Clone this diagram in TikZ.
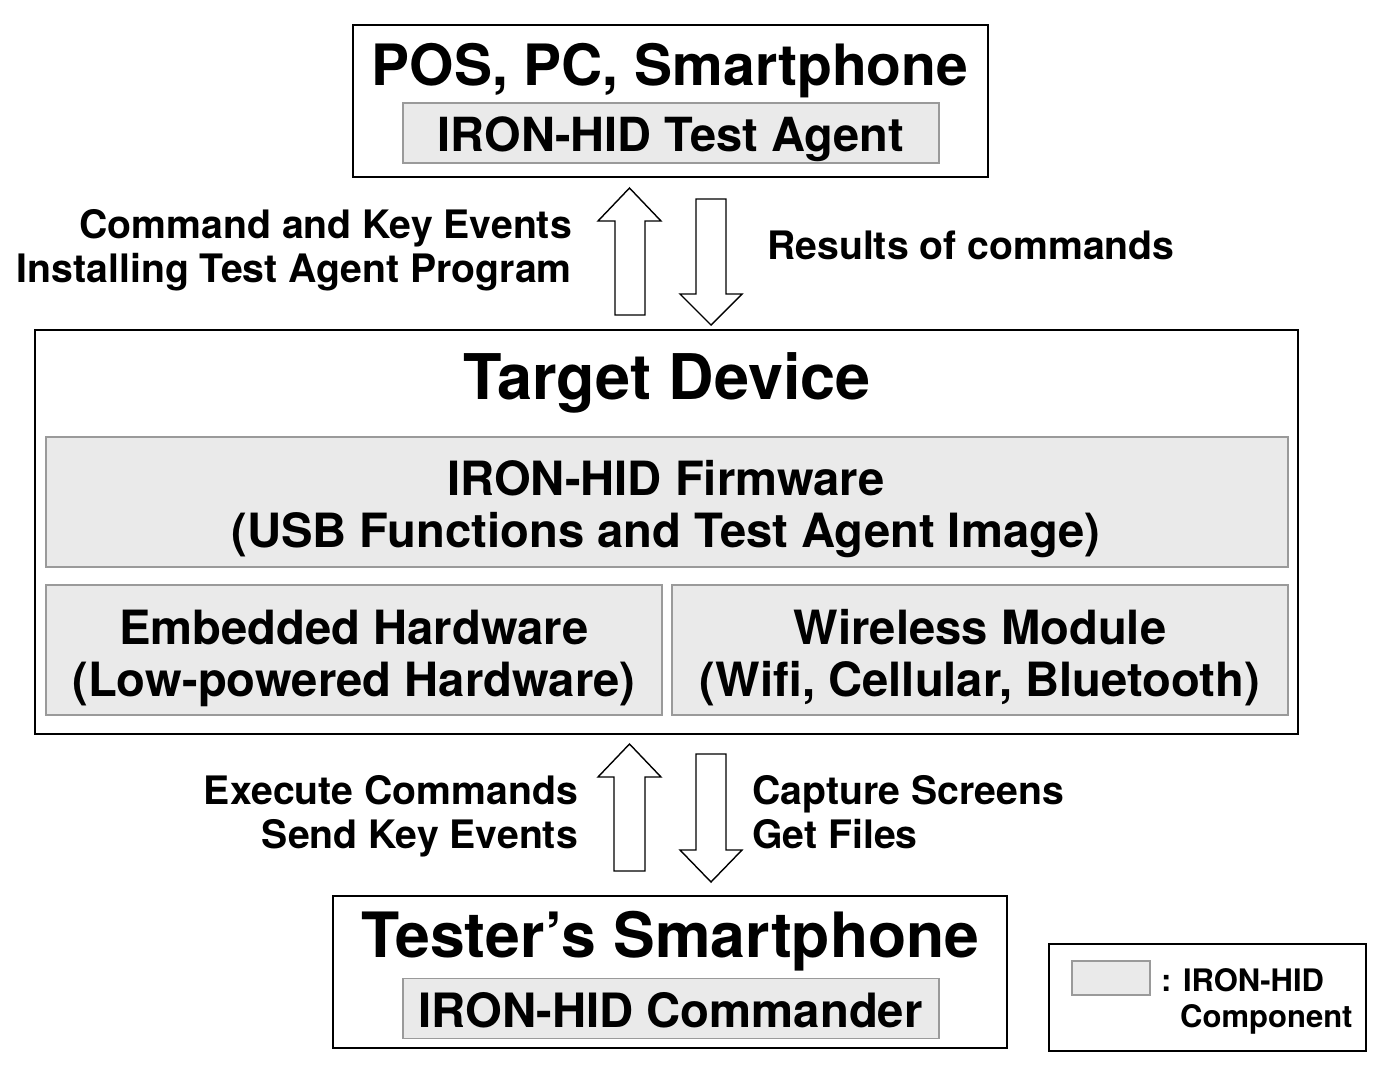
\documentclass[tikz,border=0pt]{standalone}
\usepackage{fontspec}
\setmainfont{TeX Gyre Heros}
\definecolor{compfill}{HTML}{EAEAEA}
\definecolor{compdraw}{HTML}{9A9A9A}
\begin{document}
\begin{tikzpicture}[x=1pt,y=-1pt,
  outerbox/.style={draw=black,line width=2.4pt,fill=white,inner sep=0pt},
  compbox/.style={draw=compdraw,line width=1.5pt,fill=compfill,inner sep=0pt},
  blockarrow/.style={draw=black,line width=1.4pt,fill=white,line join=miter},
  txt/.style={inner sep=0pt,anchor=base,font=\bfseries},
  lbl/.style={inner sep=0pt,font=\bfseries\fontsize{39.2}{46}\selectfont}]
\useasboundingbox (0,0) rectangle (1393,1085);
% top box
\node[outerbox,minimum width=635pt,minimum height=152pt] (host) at (670.5,101) {};
\node[compbox,minimum width=536pt,minimum height=60pt] (agent) at (671,133) {};
\node[txt,font=\bfseries\fontsize{57}{60}\selectfont] (hostt) at (670,85) {POS, PC, Smartphone};
\node[txt,font=\bfseries\fontsize{47}{50}\selectfont] (agentt) at (671,151.5) {IRON-HID Test Agent};
% target box
\node[outerbox,minimum width=1263pt,minimum height=404pt] (target) at (666.5,532) {};
\node[txt,font=\bfseries\fontsize{63}{66}\selectfont] (targett) at (667,399) {Target Device};
\node[compbox,minimum width=1242pt,minimum height=130pt] (fw) at (667,502) {};
\node[txt,font=\bfseries\fontsize{47.2}{50}\selectfont] (fw1) at (666,495) {IRON-HID Firmware};
\node[txt,font=\bfseries\fontsize{47.2}{50}\selectfont] (fw2) at (666,547) {(USB Functions and Test Agent Image)};
\node[compbox,minimum width=616pt,minimum height=130pt] (emb) at (354,650) {};
\node[txt,font=\bfseries\fontsize{47.2}{50}\selectfont] (emb1) at (354,644) {Embedded Hardware};
\node[txt,font=\bfseries\fontsize{47.2}{50}\selectfont] (emb2) at (354,696) {(Low-powered Hardware)};
\node[compbox,minimum width=616pt,minimum height=130pt] (wl) at (980,650) {};
\node[txt,font=\bfseries\fontsize{47.2}{50}\selectfont] (wl1) at (980,644) {Wireless Module};
\node[txt,font=\bfseries\fontsize{47.2}{50}\selectfont] (wl2) at (980,696) {(Wifi, Cellular, Bluetooth)};
% tester box
\node[outerbox,minimum width=674pt,minimum height=152pt] (tester) at (670,972) {};
\node[compbox,minimum width=536pt,minimum height=60pt] (cmd) at (671,1008.5) {};
\node[txt,font=\bfseries\fontsize{62.5}{64}\selectfont] (testert) at (670.5,957) {Tester’s Smartphone};
\node[txt,font=\bfseries\fontsize{47.3}{50}\selectfont] (cmdt) at (670.5,1027) {IRON-HID Commander};
% upper arrows
\draw[blockarrow] (629.5,188) -- (661,221) -- (645,221) -- (645,315) -- (615,315) -- (615,221) -- (598,221) -- cycle;
\draw[blockarrow] (711,325) -- (742,294) -- (726,294) -- (726,199) -- (696,199) -- (696,294) -- (680,294) -- cycle;
% lower arrows
\draw[blockarrow] (629.5,744) -- (661,777) -- (645,777) -- (645,871) -- (614,871) -- (614,777) -- (598,777) -- cycle;
\draw[blockarrow] (711,882) -- (742,850) -- (726,850) -- (726,754) -- (696,754) -- (696,850) -- (680,850) -- cycle;
% labels
\node[lbl,anchor=base east] (l1) at (572,238) {Command and Key Events};
\node[lbl,anchor=base east] (l2) at (572,282) {Installing Test Agent Program};
\node[lbl,anchor=base west] (r1) at (767,259) {Results of commands};
\node[lbl,anchor=base east] (l3) at (578,804) {Execute Commands};
\node[lbl,anchor=base east] (l4) at (578,848) {Send Key Events};
\node[lbl,anchor=base west] (r3) at (752,804) {Capture Screens};
\node[lbl,anchor=base west] (r4) at (752,848) {Get Files};
% legend
\node[draw=black,line width=2pt,fill=white,inner sep=0pt,minimum width=317pt,minimum height=107pt] (legend) at (1207.5,997.5) {};
\node[compbox,minimum width=78pt,minimum height=34pt] (swatch) at (1111,978) {};
\node[txt,anchor=base west,font=\bfseries\fontsize{31}{36}\selectfont] (leg1) at (1161,991) {: IRON-HID};
\node[txt,anchor=base west,font=\bfseries\fontsize{31}{36}\selectfont] (leg2) at (1180,1027) {Component};
\end{tikzpicture}
\end{document}
